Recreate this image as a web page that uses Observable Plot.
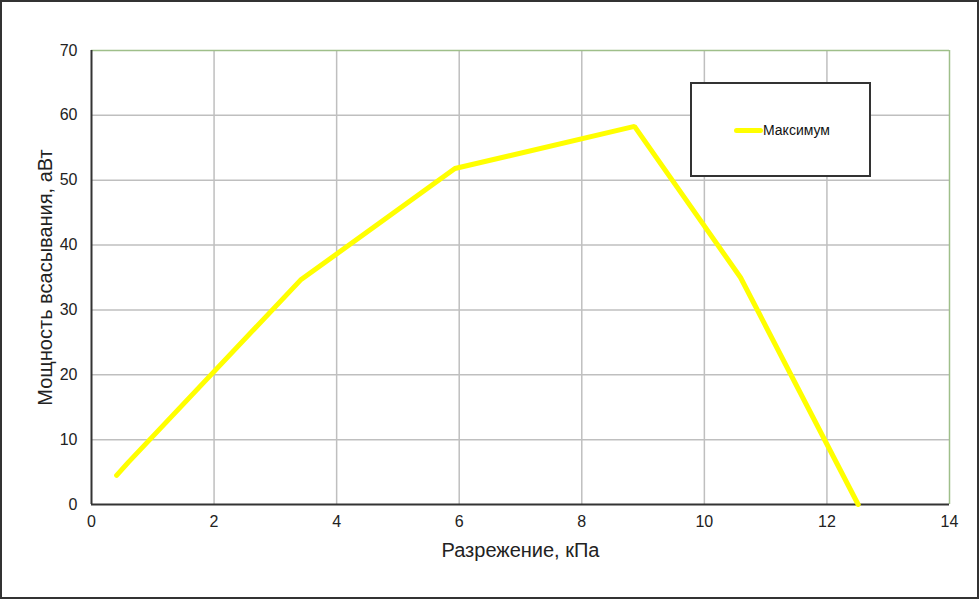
<!DOCTYPE html>
<html><head><meta charset="utf-8">
<script src="https://cdn.jsdelivr.net/npm/d3@7"></script>
<script src="https://cdn.jsdelivr.net/npm/@observablehq/plot@0.6"></script>
<style>
body{margin:0;background:#fff;font-family:"Liberation Sans",Arial,sans-serif;}
#wrap{position:relative;width:979px;height:600px;}
#border{position:absolute;left:0;top:0;width:975px;height:595px;border:2px solid #333;pointer-events:none;}
#legend{position:absolute;left:690px;top:82px;width:177px;height:91px;border:2px solid #333;background:#fff;}
#legend .sw{position:absolute;left:42px;top:44px;width:29px;height:5px;background:#ffff00;border-radius:3px;}
#legend .lb{position:absolute;left:71px;top:38px;font-size:14px;color:#111;}
</style></head>
<body><div id="wrap"><div id="border"></div><div id="legend"><div class="sw"></div><div class="lb">Максимум</div></div></div>
<script>
const xs = [0.41, 0.6, 3.41, 5.93, 8.86, 10.59, 12.51];
const ys = [4.5, 6.5, 34.6, 51.8, 58.3, 35.0, 0];
const xTicks = [0, 2, 4, 6, 8, 10, 12, 14];
const yTicks = [0, 10, 20, 30, 40, 50, 60, 70];
const seriesName = "Максимум";
const xLabel = "Разрежение, кПа";
const yLabel = "Мощность всасывания, аВт";
const data = xs.map((x, i) => ({x, y: ys[i]}));

const chart = Plot.plot({
  width: 979, height: 600,
  marginLeft: 91, marginRight: 30, marginTop: 50, marginBottom: 96,
  style: {fontFamily: '"Liberation Sans", Arial, sans-serif', fontSize: "16px", color: "#222", background: "transparent"},
  x: {domain: [0, 14], ticks: xTicks},
  y: {domain: [0, 70], ticks: yTicks},
  marks: [
    Plot.ruleX(xTicks.slice(1, -1), {stroke: "#bfbfbf", strokeWidth: 1.5}),
    Plot.ruleY(yTicks.slice(1, -1), {stroke: "#bfbfbf", strokeWidth: 1.5}),
    Plot.ruleY([70], {stroke: "#9fbf8a", strokeWidth: 1.5}),
    Plot.ruleX([14], {stroke: "#9fbf8a", strokeWidth: 1.5}),
    Plot.ruleX([0], {stroke: "#333", strokeWidth: 2}),
    Plot.ruleY([0], {stroke: "#333", strokeWidth: 2}),
    Plot.line(data, {x: "x", y: "y", stroke: "#ffff00", strokeWidth: 5, strokeLinejoin: "miter", strokeLinecap: "round"}),
    Plot.axisX({ticks: xTicks, tickSize: 0, tickPadding: 11, label: xLabel, labelAnchor: "center", labelOffset: 52, labelArrow: "none", fontSize: 16}),
    Plot.axisY({ticks: yTicks, tickSize: 0, tickPadding: 14, label: yLabel, labelAnchor: "center", labelOffset: 54, labelArrow: "none", fontSize: 16})
  ]
});
chart.style.position = "absolute";
chart.style.left = "0"; chart.style.top = "0";
const wrap = document.getElementById("wrap");
wrap.insertBefore(chart, wrap.firstChild);
chart.querySelectorAll('[aria-label="x-axis label"] text, [aria-label="y-axis label"] text').forEach(t => { t.style.fontSize = "20px"; t.style.whiteSpace = "pre"; });
</script></body></html>
